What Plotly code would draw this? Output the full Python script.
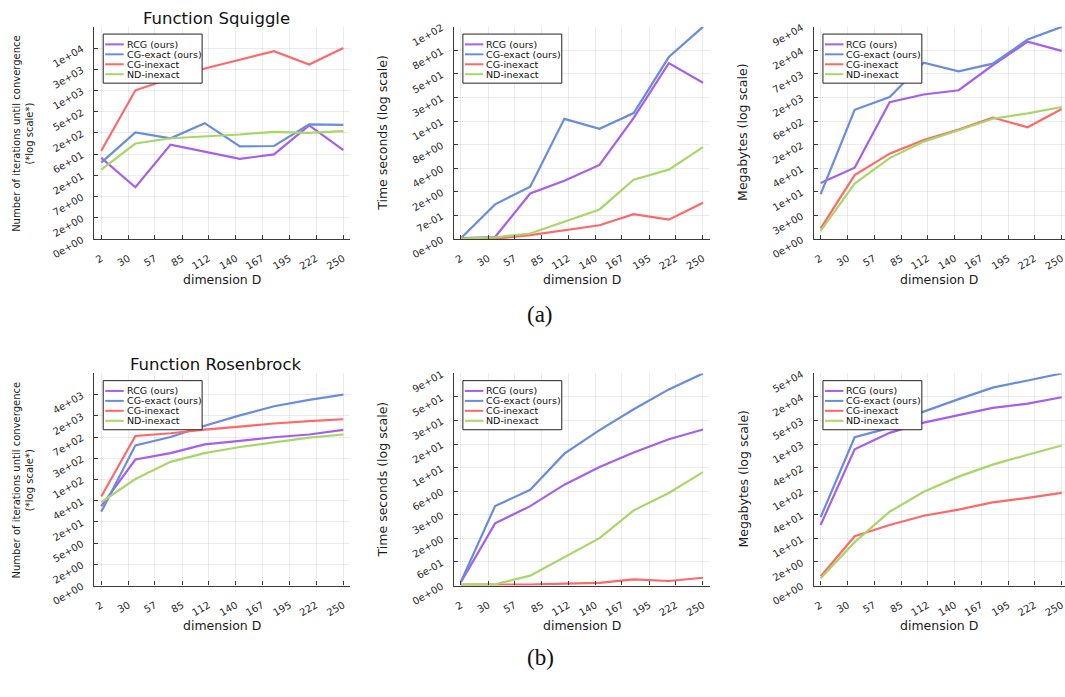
import numpy as np
import plotly.graph_objects as go

W, H = 1065, 697

# ---------------------------------------------------------------- data
dims = [2, 37, 73, 108, 144, 179, 215, 250]
dim_ticks = [2, 30, 57, 85, 112, 140, 167, 195, 222, 250]
methods = ["RCG (ours)", "CG-exact (ours)", "CG-inexact", "ND-inexact"]
colors = ["rgb(166,94,236)", "rgb(104,140,222)", "rgb(255,104,104)", "rgb(168,214,104)"]

# Function Squiggle
sq_iters_rcg = [48, 11, 92, 66, 46, 57, 232, 70]
sq_iters_cg_exact = [38, 165, 125, 259, 84, 86, 244, 239]
sq_iters_cg_inexact = [68, 1261, 2231, 3605, 5488, 8271, 4356, 9609]
sq_iters_nd_inexact = [27, 97, 125, 136, 150, 171, 163, 177]

sq_time_rcg = [0.017, 0.045, 1.89, 2.89, 4.62, 15.9, 59.5, 37.3]
sq_time_cg_exact = [0.017, 1.24, 2.39, 15.5, 12.1, 17.9, 68.8, 140.2]
sq_time_cg_inexact = [0.002, 0.0055, 0.092, 0.226, 0.376, 0.78, 0.57, 1.33]
sq_time_nd_inexact = [0.0055, 0.039, 0.135, 0.51, 0.99, 2.98, 4.04, 7.54]

sq_mem_rcg = [19.1, 44.7, 1540, 2340, 2940, 11240, 39870, 24340]
sq_mem_cg_exact = [10.1, 1027, 2036, 12920, 8080, 12280, 44690, 88420]
sq_mem_cg_inexact = [0.77, 29.9, 96.6, 202.6, 354, 677, 402, 1067]
sq_mem_nd_inexact = [0.54, 18.6, 75.8, 185, 341, 635, 850, 1196]

# Function Rosenbrock
rb_iters_rcg = [31, 245, 324, 474, 555, 650, 733, 899]
rb_iters_cg_exact = [24, 456, 656, 1073, 1688, 2517, 3328, 4188]
rb_iters_cg_inexact = [48, 687, 775, 908, 1033, 1187, 1315, 1429]
rb_iters_nd_inexact = [37, 104, 221, 324, 424, 515, 638, 733]

rb_time_rcg = [0.073, 2.74, 4.39, 7.50, 11.37, 15.78, 21.3, 26.4]
rb_time_cg_exact = [0.083, 4.39, 6.61, 15.4, 26.0, 41.1, 63.1, 89.0]
rb_time_cg_inexact = [0.020, 0.015, 0.020, 0.041, 0.057, 0.139, 0.10, 0.179]
rb_time_nd_inexact = [0.015, 0.025, 0.234, 0.84, 1.73, 3.93, 6.13, 10.08]

rb_mem_rcg = [21.0, 1048, 2432, 4084, 6002, 8710, 10810, 14970]
rb_mem_cg_exact = [31.8, 1936, 3133, 7185, 13610, 24530, 35230, 50550]
rb_mem_cg_inexact = [0.58, 11.4, 21.0, 34.2, 47.2, 69.0, 86.9, 112.2]
rb_mem_nd_inexact = [0.45, 8.15, 42.2, 119, 259, 479, 794, 1270]

# y tick labels (values of log(1+y) grid, formatted)
sq_iters_ticks = ["0e+00", "2e+00", "7e+00", "2e+01", "6e+01", "2e+02", "5e+02", "1e+03", "3e+03", "1e+04"]
sq_time_ticks = ["0e+00", "7e-01", "2e+00", "4e+00", "8e+00", "1e+01", "3e+01", "5e+01", "8e+01", "1e+02"]
sq_mem_ticks = ["0e+00", "3e+00", "1e+01", "4e+01", "2e+02", "6e+02", "2e+03", "7e+03", "2e+04", "9e+04"]
rb_iters_ticks = ["0e+00", "2e+00", "5e+00", "2e+01", "4e+01", "1e+02", "3e+02", "7e+02", "2e+03", "4e+03"]
rb_time_ticks = ["0e+00", "6e-01", "2e+00", "3e+00", "6e+00", "1e+01", "2e+01", "3e+01", "5e+01", "9e+01"]
rb_mem_ticks = ["0e+00", "2e+00", "1e+01", "4e+01", "1e+02", "4e+02", "1e+03", "5e+03", "2e+04", "5e+04"]

iters_title = "Number of iterations until convergence<br>(*log scale*)"
time_title = "Time seconds (log scale)"
mem_title = "Megabytes (log scale)"

panels = [
    dict(series=[sq_iters_rcg, sq_iters_cg_exact, sq_iters_cg_inexact, sq_iters_nd_inexact],
         ticks=sq_iters_ticks, ytitle=iters_title, title="Function Squiggle", col=0, row=0),
    dict(series=[sq_time_rcg, sq_time_cg_exact, sq_time_cg_inexact, sq_time_nd_inexact],
         ticks=sq_time_ticks, ytitle=time_title, title=None, col=1, row=0),
    dict(series=[sq_mem_rcg, sq_mem_cg_exact, sq_mem_cg_inexact, sq_mem_nd_inexact],
         ticks=sq_mem_ticks, ytitle=mem_title, title=None, col=2, row=0),
    dict(series=[rb_iters_rcg, rb_iters_cg_exact, rb_iters_cg_inexact, rb_iters_nd_inexact],
         ticks=rb_iters_ticks, ytitle=iters_title, title="Function Rosenbrock", col=0, row=1),
    dict(series=[rb_time_rcg, rb_time_cg_exact, rb_time_cg_inexact, rb_time_nd_inexact],
         ticks=rb_time_ticks, ytitle=time_title, title=None, col=1, row=1),
    dict(series=[rb_mem_rcg, rb_mem_cg_exact, rb_mem_cg_inexact, rb_mem_nd_inexact],
         ticks=rb_mem_ticks, ytitle=mem_title, title=None, col=2, row=1),
]

# ---------------------------------------------------------------- layout geometry (pixels)
col_px = [(93.3, 349.3), (453.3, 709.3), (813.7, 1065.0)]
row_px = [(22.7, 243.0), (382.7, 603.0)]
x_ranges = [[-5.2, 256.8], [-5.2, 256.8], [-4.9, 253.4]]

FONT = "DejaVu Sans"
AXIS_COLOR = "#3a3a3a"
GRID_COLOR = "rgba(0,0,0,0.075)"


def px_x(px):
    return px / W


def px_y(py):
    return 1 - py / H


fig = go.Figure()
shapes = []
annotations = []

for i, p in enumerate(panels):
    n = i + 1
    xa = "x" if n == 1 else f"x{n}"
    ya = "y" if n == 1 else f"y{n}"
    x0, x1 = col_px[p["col"]]
    y0, y1 = row_px[p["row"]]

    logs = [np.log1p(np.asarray(s, dtype=float)) for s in p["series"]]
    top = max(float(l.max()) for l in logs)
    tickvals = np.linspace(0, top, 10)
    y_top = top * 10 / 9 if p["col"] == 0 else top

    for name, color, l in zip(methods, colors, logs):
        fig.add_trace(go.Scatter(
            x=dims, y=l, mode="lines", name=name, showlegend=False,
            line=dict(color=color, width=2.2), xaxis=xa, yaxis=ya,
        ))

    common = dict(
        showline=True, linecolor=AXIS_COLOR, linewidth=1.3,
        ticks="inside", ticklen=4, tickwidth=1, tickcolor=AXIS_COLOR,
        showgrid=True, gridcolor=GRID_COLOR, gridwidth=1, zeroline=False,
        tickfont=dict(family=FONT, size=10, color="#2a2a2a"), tickangle=-30,
        ticklabeloverflow="allow", mirror=False,
    )
    fig.layout[f"xaxis{'' if n == 1 else n}"] = dict(
        domain=[px_x(x0), px_x(x1)], anchor=ya, range=x_ranges[p["col"]],
        tickmode="array", tickvals=dim_ticks, ticktext=[str(t) for t in dim_ticks],
        ticklabelstandoff=9, **common,
    )
    fig.layout[f"yaxis{'' if n == 1 else n}"] = dict(
        domain=[px_y(y1), px_y(y0)], anchor=xa, range=[0, y_top],
        tickmode="array", tickvals=tickvals, ticktext=p["ticks"],
        ticklabelstandoff=9, **common,
    )

    cx = (x0 + x1) / 2
    # x-axis title
    annotations.append(dict(
        text="dimension D", x=px_x(cx), y=px_y(y1 + 42), xref="paper", yref="paper",
        showarrow=False, xanchor="center", yanchor="middle",
        font=dict(family=FONT, size=12.5, color="#1a1a1a"),
    ))
    # y-axis title
    if p["col"] == 0:
        annotations.append(dict(
            text=p["ytitle"], x=px_x(22), y=px_y((y0 + y1) / 2), xref="paper", yref="paper",
            showarrow=False, textangle=-90, xanchor="center", yanchor="middle",
            font=dict(family=FONT, size=10, color="#1a1a1a"),
        ))
    else:
        annotations.append(dict(
            text=p["ytitle"], x=px_x(x0 - 71), y=px_y((y0 + y1) / 2), xref="paper", yref="paper",
            showarrow=False, textangle=-90, xanchor="center", yanchor="middle",
            font=dict(family=FONT, size=12.5, color="#1a1a1a"),
        ))
    if p["title"]:
        annotations.append(dict(
            text=p["title"], x=px_x(cx - 6), y=px_y(y0 - 9), xref="paper", yref="paper",
            showarrow=False, xanchor="center", yanchor="middle",
            font=dict(family=FONT, size=16.5, color="#111"),
        ))

    # boxed legend in the upper-left corner of each panel
    lx0, ly0 = x0 + 9, y0 + 7.5
    lx1, ly1 = lx0 + 99, ly0 + 51
    shapes.append(dict(
        type="rect", xref="paper", yref="paper",
        x0=px_x(lx0), x1=px_x(lx1), y0=px_y(ly1), y1=px_y(ly0),
        line=dict(color="#222", width=1), fillcolor="white", layer="above",
    ))
    for k, (name, color) in enumerate(zip(methods, colors)):
        ry = ly0 + 10.7 + k * 10.33
        shapes.append(dict(
            type="line", xref="paper", yref="paper",
            x0=px_x(lx0 + 2), x1=px_x(lx0 + 20.5), y0=px_y(ry), y1=px_y(ry),
            line=dict(color=color, width=2), layer="above",
        ))
        annotations.append(dict(
            text=name, x=px_x(lx0 + 21.5), y=px_y(ry), xref="paper", yref="paper",
            showarrow=False, xanchor="left", yanchor="middle",
            font=dict(family=FONT, size=9.5, color="#111"),
        ))

# sub-figure captions
for label, py in [("(a)", 321), ("(b)", 678)]:
    annotations.append(dict(
        text=label, x=px_x(540), y=px_y(py), xref="paper", yref="paper",
        showarrow=False, xanchor="center", yanchor="middle",
        font=dict(family="Liberation Serif", size=23, color="#111"),
    ))

fig.update_layout(
    width=W, height=H, margin=dict(l=0, r=0, t=0, b=0),
    paper_bgcolor="white", plot_bgcolor="white",
    showlegend=False, shapes=shapes, annotations=annotations,
    font=dict(family=FONT),
)

fig.write_html("out.html")
